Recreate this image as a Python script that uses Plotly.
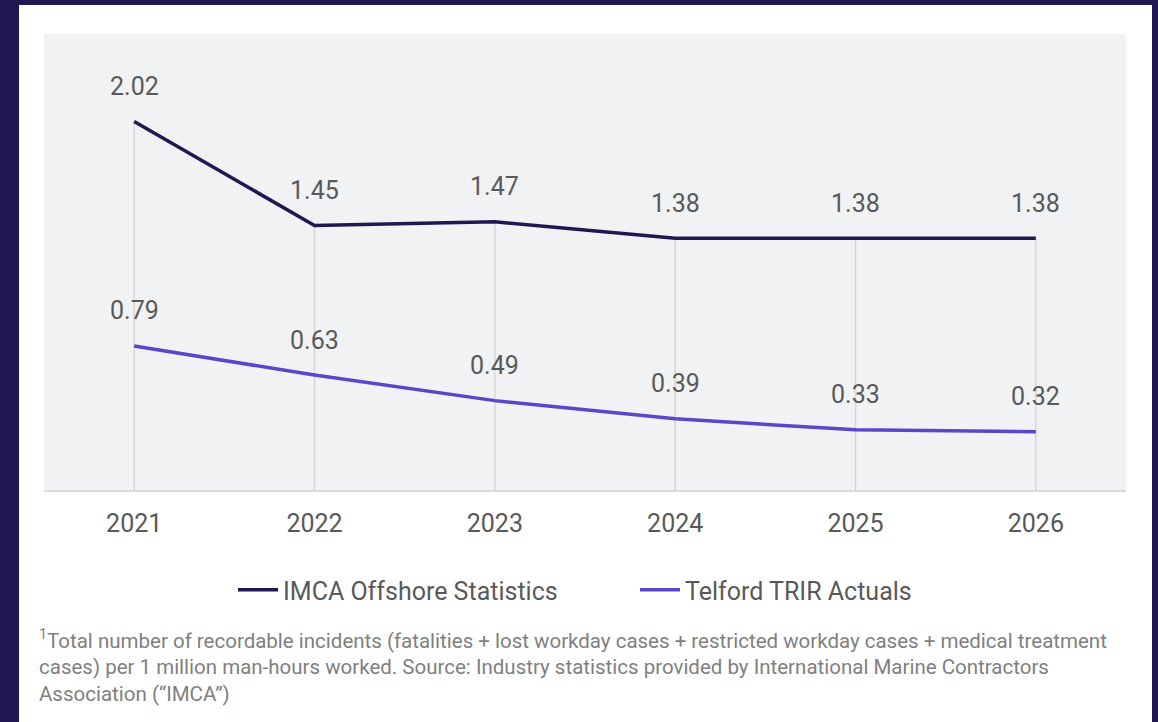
import plotly.graph_objects as go

years = ["2021", "2022", "2023", "2024", "2025", "2026"]
imca = [2.02, 1.45, 1.47, 1.38, 1.38, 1.38]
telford = [0.79, 0.63, 0.49, 0.39, 0.33, 0.32]
series_names = ["IMCA Offshore Statistics", "Telford TRIR Actuals"]
footnote_lines = [
    "<sup>1</sup>Total number of recordable incidents (fatalities + lost workday cases + restricted workday cases + medical treatment",
    "cases) per 1 million man-hours worked. Source: Industry statistics provided by International Marine Contractors",
    "Association (“IMCA”)",
]

NAVY = "#201851"
PURPLE = "#5b45c8"
LABEL = "#595959"
W, H = 1158, 722
ML, MR, MT, MB = 44, 32, 34, 232
PW, PH = W - ML - MR, H - MT - MB

def px_x(p):
    return (p - ML) / PW

def px_y(p):
    return (H - MB - p) / PH

fig = go.Figure()
fig.add_trace(go.Scatter(x=years, y=imca, mode="lines", name=series_names[0],
                         line=dict(color=NAVY, width=3.5)))
fig.add_trace(go.Scatter(x=years, y=telford, mode="lines", name=series_names[1],
                         line=dict(color=PURPLE, width=3.5)))

shapes = []
for i, yr in enumerate(years):
    shapes.append(dict(type="line", xref="x", yref="y", x0=i, x1=i, y0=0,
                       y1=max(imca[i], telford[i]), layer="below",
                       line=dict(color="#d6d6d6", width=1.5)))

# frame
shapes += [
    dict(type="rect", xref="paper", yref="paper", x0=px_x(0), x1=px_x(19), y0=px_y(H), y1=px_y(0),
         fillcolor=NAVY, line=dict(width=0)),
    dict(type="rect", xref="paper", yref="paper", x0=px_x(0), x1=px_x(W), y0=px_y(5), y1=px_y(0),
         fillcolor=NAVY, line=dict(width=0)),
    dict(type="rect", xref="paper", yref="paper", x0=px_x(1152), x1=px_x(W), y0=px_y(H), y1=px_y(0),
         fillcolor=NAVY, line=dict(width=0)),
]

annotations = []
for series in (imca, telford):
    for i, v in enumerate(series):
        annotations.append(dict(x=i, y=v, xref="x", yref="y", text=f"{v:.2f}",
                                showarrow=False, yanchor="middle", yshift=35,
                                font=dict(family="Roboto, Arial", size=25, color=LABEL)))

annotations.append(dict(xref="paper", yref="paper", x=px_x(37), y=px_y(624), xanchor="left",
                        yanchor="top", align="left", showarrow=False,
                        text="<br>".join(footnote_lines),
                        font=dict(family="Roboto, Arial", size=20.5, color="#808080")))

fig.update_layout(
    width=W, height=H,
    margin=dict(l=ML, r=MR, t=MT, b=MB),
    paper_bgcolor="white",
    plot_bgcolor="#f1f2f4",
    shapes=shapes,
    annotations=annotations,
    showlegend=True,
    legend=dict(orientation="h", x=px_x(233), xanchor="left", y=px_y(590), yanchor="middle",
                font=dict(family="Roboto, Arial", size=25, color=LABEL),
                itemwidth=40, entrywidth=347, traceorder="normal", bgcolor="rgba(0,0,0,0)"),
    xaxis=dict(type="category", range=[-0.5, 5.5], showgrid=False, zeroline=False,
               showline=True, linecolor="#d9d9d9", linewidth=2,
               ticks="outside", ticklen=10, tickcolor="rgba(0,0,0,0)",
               tickfont=dict(family="Roboto, Arial", size=25, color=LABEL)),
    yaxis=dict(range=[0, 2.5], showgrid=False, zeroline=False, showticklabels=False,
               showline=False),
)

fig.write_html("out.html")
